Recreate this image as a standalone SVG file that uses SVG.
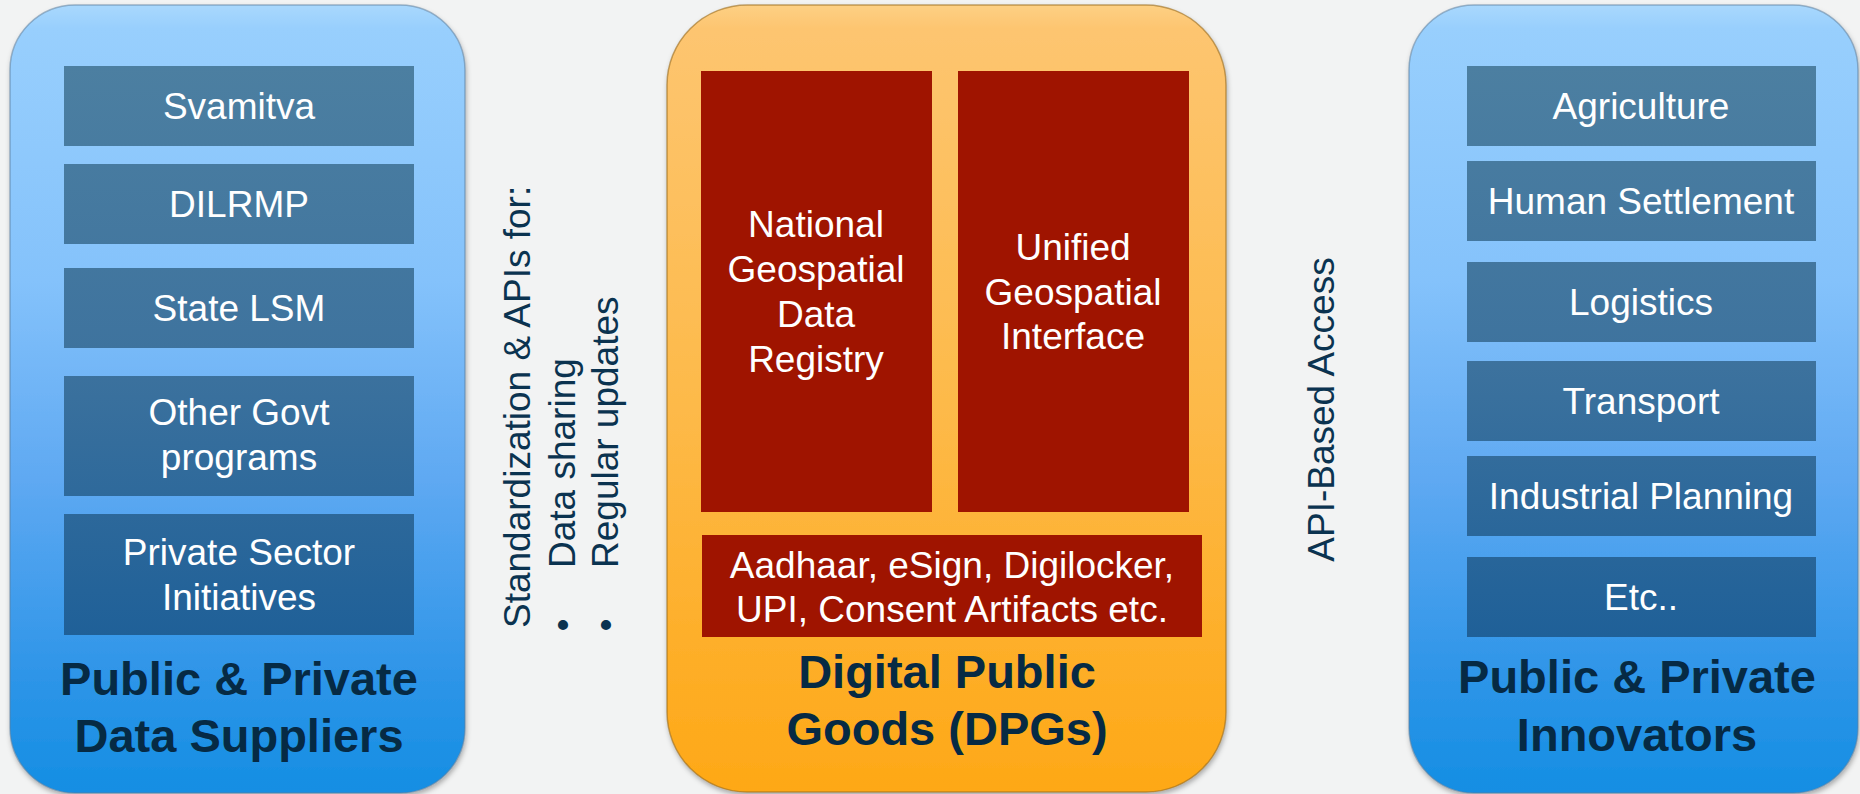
<svg xmlns="http://www.w3.org/2000/svg" width="1860" height="794" viewBox="0 0 1860 794">
  <defs>
    <style>
      .tile-txt { font-family: "Liberation Sans", Arial, sans-serif; font-size: 37px; fill: #ffffff; text-anchor: middle; }
      .title { font-family: "Liberation Sans", Arial, sans-serif; font-size: 47px; font-weight: bold; fill: #062a44; text-anchor: middle; }
      .side { font-family: "Liberation Sans", Arial, sans-serif; font-size: 37px; fill: #0b3350; }
      .panel-blue { fill: url(#blueBg); stroke: #5d7f9e; stroke-opacity: 0.55; stroke-width: 1.5; filter: url(#shadow); }
      .panel-orange { fill: url(#orangeBg); stroke: #9a6a1c; stroke-opacity: 0.6; stroke-width: 1.5; filter: url(#shadow); }
      .red { fill: #9f1400; }
    </style>
    <linearGradient id="blueBg" x1="0" y1="0" x2="0" y2="1">
      <stop offset="0" stop-color="#a9d8fd"/>
      <stop offset="0.03" stop-color="#98cffd"/>
      <stop offset="0.35" stop-color="#84c2fb"/>
      <stop offset="0.6" stop-color="#5fa9f2"/>
      <stop offset="0.85" stop-color="#2e95e8"/>
      <stop offset="1" stop-color="#148ee3"/>
    </linearGradient>
    <linearGradient id="orangeBg" x1="0" y1="0" x2="0" y2="1">
      <stop offset="0" stop-color="#fdd084"/>
      <stop offset="0.03" stop-color="#fdc570"/>
      <stop offset="0.5" stop-color="#fdba4a"/>
      <stop offset="1" stop-color="#fea816"/>
    </linearGradient>
    <linearGradient id="tileBlue" gradientUnits="userSpaceOnUse" x1="0" y1="66" x2="0" y2="637">
      <stop offset="0" stop-color="#4c7fa1"/>
      <stop offset="0.5" stop-color="#3e739e"/>
      <stop offset="1" stop-color="#1f6098"/>
    </linearGradient>
    <filter id="shadow" x="-5%" y="-5%" width="110%" height="110%">
      <feDropShadow dx="1" dy="3" stdDeviation="2.5" flood-color="#000000" flood-opacity="0.3"/>
    </filter>
  </defs>

  <rect x="0" y="0" width="1860" height="794" fill="#f2f3f3"/>

  <!-- Left column: data suppliers -->
  <g id="suppliers">
    <rect class="panel-blue" x="10" y="5" width="455" height="788" rx="65" ry="65"/>
    <g id="svamitva">
      <rect x="64" y="66" width="350" height="80" fill="url(#tileBlue)"/>
      <text class="tile-txt" x="239" y="119">Svamitva</text>
    </g>
    <g id="dilrmp">
      <rect x="64" y="164" width="350" height="80" fill="url(#tileBlue)"/>
      <text class="tile-txt" x="239" y="217">DILRMP</text>
    </g>
    <g id="state-lsm">
      <rect x="64" y="268" width="350" height="80" fill="url(#tileBlue)"/>
      <text class="tile-txt" x="239" y="321">State LSM</text>
    </g>
    <g id="other-govt">
      <rect x="64" y="376" width="350" height="120" fill="url(#tileBlue)"/>
      <text class="tile-txt" x="239" y="425">Other Govt</text>
      <text class="tile-txt" x="239" y="470">programs</text>
    </g>
    <g id="private-sector">
      <rect x="64" y="514" width="350" height="121" fill="url(#tileBlue)"/>
      <text class="tile-txt" x="239" y="565">Private Sector</text>
      <text class="tile-txt" x="239" y="610">Initiatives</text>
    </g>
    <text class="title" x="239" y="695">Public &amp; Private</text>
    <text class="title" x="239" y="752">Data Suppliers</text>
  </g>

  <!-- Centre column: digital public goods -->
  <g id="dpgs">
    <rect class="panel-orange" x="667" y="5" width="559" height="787" rx="80" ry="80"/>
    <g id="ngdr">
      <rect class="red" x="701" y="71" width="231" height="441"/>
      <text class="tile-txt" x="816" y="237">National</text>
      <text class="tile-txt" x="816" y="282">Geospatial</text>
      <text class="tile-txt" x="816" y="327">Data</text>
      <text class="tile-txt" x="816" y="372">Registry</text>
    </g>
    <g id="ugi">
      <rect class="red" x="958" y="71" width="231" height="441"/>
      <text class="tile-txt" x="1073" y="260">Unified</text>
      <text class="tile-txt" x="1073" y="305">Geospatial</text>
      <text class="tile-txt" x="1073" y="349">Interface</text>
    </g>
    <g id="dpi-stack">
      <rect class="red" x="702" y="535" width="500" height="102"/>
      <text class="tile-txt" x="952" y="578">Aadhaar, eSign, Digilocker,</text>
      <text class="tile-txt" x="952" y="622">UPI, Consent Artifacts etc.</text>
    </g>
    <text class="title" x="947" y="688">Digital Public</text>
    <text class="title" x="947" y="745">Goods (DPGs)</text>
  </g>

  <!-- Right column: innovators -->
  <g id="innovators">
    <rect class="panel-blue" x="1409" y="5" width="449" height="788" rx="65" ry="65"/>
    <g id="agriculture">
      <rect x="1467" y="66" width="349" height="80" fill="url(#tileBlue)"/>
      <text class="tile-txt" x="1641" y="119">Agriculture</text>
    </g>
    <g id="human-settlement">
      <rect x="1467" y="161" width="349" height="80" fill="url(#tileBlue)"/>
      <text class="tile-txt" x="1641" y="214">Human Settlement</text>
    </g>
    <g id="logistics">
      <rect x="1467" y="262" width="349" height="80" fill="url(#tileBlue)"/>
      <text class="tile-txt" x="1641" y="315">Logistics</text>
    </g>
    <g id="transport">
      <rect x="1467" y="361" width="349" height="80" fill="url(#tileBlue)"/>
      <text class="tile-txt" x="1641" y="414">Transport</text>
    </g>
    <g id="industrial-planning">
      <rect x="1467" y="456" width="349" height="80" fill="url(#tileBlue)"/>
      <text class="tile-txt" x="1641" y="509">Industrial Planning</text>
    </g>
    <g id="etc">
      <rect x="1467" y="557" width="349" height="80" fill="url(#tileBlue)"/>
      <text class="tile-txt" x="1641" y="610">Etc..</text>
    </g>
    <text class="title" x="1637" y="693">Public &amp; Private</text>
    <text class="title" x="1637" y="751">Innovators</text>
  </g>

  <!-- Links between columns (labels only) -->
  <g id="connectors">
    <g id="supply-link">
      <text class="side" transform="translate(530 628) rotate(-90)">Standardization &amp; APIs for:</text>
      <text class="side" transform="translate(575 625) rotate(-90)" text-anchor="middle">•</text>
      <text class="side" transform="translate(575 568) rotate(-90)">Data sharing</text>
      <text class="side" transform="translate(618 625) rotate(-90)" text-anchor="middle">•</text>
      <text class="side" transform="translate(618 568) rotate(-90)">Regular updates</text>
    </g>
    <g id="access-link">
      <text class="side" transform="translate(1334 409.5) rotate(-90)" text-anchor="middle">API-Based Access</text>
    </g>
  </g>
</svg>
